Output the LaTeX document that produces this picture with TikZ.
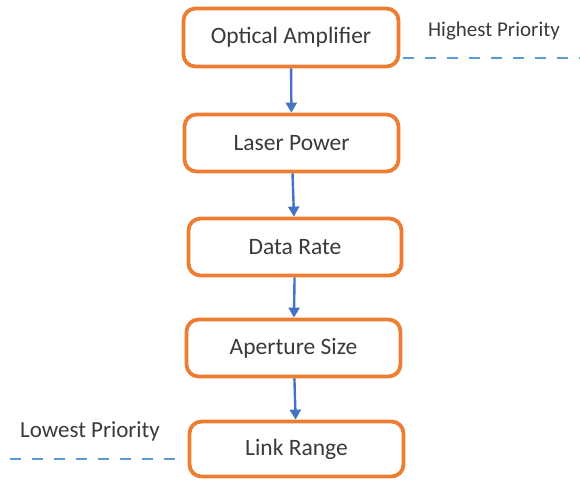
\documentclass[tikz,border=0pt]{standalone}
\usepackage{fontspec}
\setmainfont{Carlito}
\usetikzlibrary{arrows.meta}
\definecolor{boxorange}{HTML}{ED7D31}
\definecolor{arrblue}{HTML}{4472C4}
\definecolor{dashblue}{HTML}{5B9BD5}
\definecolor{txt}{HTML}{3A3A3A}
\begin{document}
\begin{tikzpicture}[x=1pt,y=-1pt,
  stepbox/.style={draw=boxorange, line width=3.8pt, rounded corners=12pt, fill=white,
    minimum width=214pt, minimum height=56pt, inner sep=0pt,
    font=\fontsize{23.5}{26}\selectfont, text=txt},
  lbl/.style={font=\fontsize{21}{24}\selectfont, text=txt, inner sep=0pt},
  arr/.style={draw=arrblue, line width=2.4pt, -{Triangle[length=10pt,width=11pt]}},
  prio/.style={draw=dashblue, line width=2.6pt, dash pattern=on 11pt off 11pt}]
\useasboundingbox (0,0) rectangle (580,480);
\node[stepbox, minimum width=215pt, minimum height=58pt] (b1) at (291,37.5) {Optical Amplifier};
\node[stepbox, minimum width=214pt, minimum height=57pt] (b2) at (291.5,143) {Laser Power};
\node[stepbox, minimum width=213pt, minimum height=57pt] (b3) at (295,247) {Data Rate};
\node[stepbox, minimum width=214pt, minimum height=57pt] (b4) at (293.5,348) {Aperture Size};
\node[stepbox, minimum width=214pt, minimum height=55pt] (b5) at (296.5,449) {Link Range};
\draw[arr] (b1) -- (b2);
\draw[arr] (b2) -- (b3);
\draw[arr] (b3) -- (b4);
\draw[arr] (b4) -- (b5);
\node[lbl] (hi) at (494,31) {Highest Priority};
\node[lbl, font=\fontsize{23}{26}\selectfont] (lo) at (90,431) {Lowest Priority};
\coordinate (hiend) at (580,58);
\coordinate (loend) at (10,459);
\draw[prio] (b1.east |- hiend) ++(3,0) -- (hiend);
\draw[prio] (loend) -- ([xshift=-3pt]b5.west |- loend);
\end{tikzpicture}
\end{document}
